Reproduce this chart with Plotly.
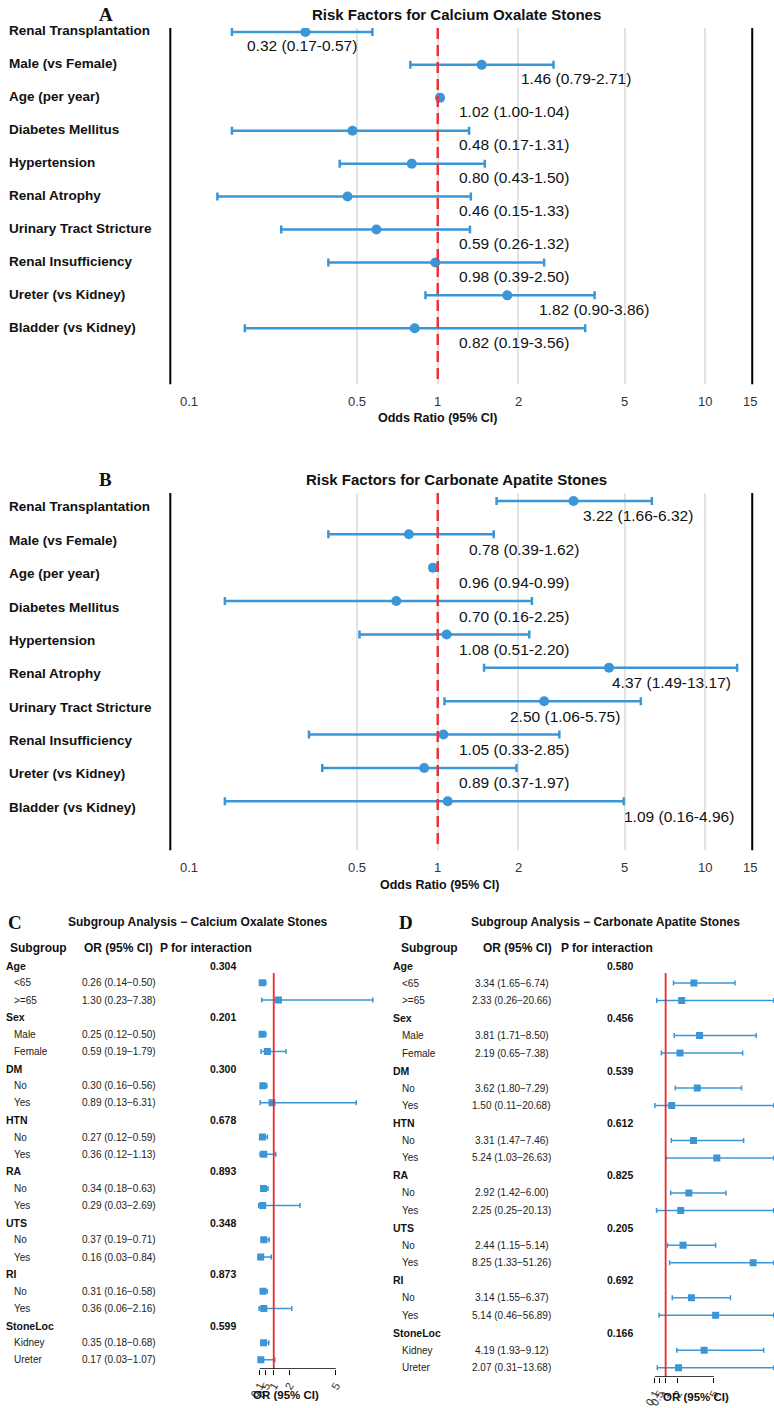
import numpy as np
import plotly.graph_objects as go

W, H = 774, 1408

# ---------------- data: panels A / B ----------------
factors = ["Renal Transplantation", "Male (vs Female)", "Age (per year)", "Diabetes Mellitus",
           "Hypertension", "Renal Atrophy", "Urinary Tract Stricture", "Renal Insufficiency",
           "Ureter (vs Kidney)", "Bladder (vs Kidney)"]
or_a = [0.32, 1.46, 1.02, 0.48, 0.80, 0.46, 0.59, 0.98, 1.82, 0.82]
lo_a = [0.17, 0.79, 1.00, 0.17, 0.43, 0.15, 0.26, 0.39, 0.90, 0.19]
hi_a = [0.57, 2.71, 1.04, 1.31, 1.50, 1.33, 1.32, 2.50, 3.86, 3.56]
or_b = [3.22, 0.78, 0.96, 0.70, 1.08, 4.37, 2.50, 1.05, 0.89, 1.09]
lo_b = [1.66, 0.39, 0.94, 0.16, 0.51, 1.49, 1.06, 0.33, 0.37, 0.16]
hi_b = [6.32, 1.62, 0.99, 2.25, 2.20, 13.17, 5.75, 2.85, 1.97, 4.96]
or_ticks = [0.1, 0.5, 1, 2, 5, 10, 15]
or_tick_text = ["0.1", "0.5", "1", "2", "5", "10", "15"]

# ---------------- data: panels C / D ----------------
groups = ["Age", "Sex", "DM", "HTN", "RA", "UTS", "RI", "StoneLoc"]
levels = [["<65", ">=65"], ["Male", "Female"], ["No", "Yes"], ["No", "Yes"],
          ["No", "Yes"], ["No", "Yes"], ["No", "Yes"], ["Kidney", "Ureter"]]
p_c = ["0.304", "0.201", "0.300", "0.678", "0.893", "0.348", "0.873", "0.599"]
or_c = [0.26, 1.30, 0.25, 0.59, 0.30, 0.89, 0.27, 0.36, 0.34, 0.29, 0.37, 0.16, 0.31, 0.36, 0.35, 0.17]
lo_c = [0.14, 0.23, 0.12, 0.19, 0.16, 0.13, 0.12, 0.12, 0.18, 0.03, 0.19, 0.03, 0.16, 0.06, 0.18, 0.03]
hi_c = [0.50, 7.38, 0.50, 1.79, 0.56, 6.31, 0.59, 1.13, 0.63, 2.69, 0.71, 0.84, 0.58, 2.16, 0.68, 1.07]
p_d = ["0.580", "0.456", "0.539", "0.612", "0.825", "0.205", "0.692", "0.166"]
or_d = [3.34, 2.33, 3.81, 2.19, 3.62, 1.50, 3.31, 5.24, 2.92, 2.25, 2.44, 8.25, 3.14, 5.14, 4.19, 2.07]
lo_d = [1.65, 0.26, 1.71, 0.65, 1.80, 0.11, 1.47, 1.03, 1.42, 0.25, 1.15, 1.33, 1.55, 0.46, 1.93, 0.31]
hi_d = [6.74, 20.66, 8.50, 7.38, 7.29, 20.68, 7.46, 26.63, 6.00, 20.13, 5.14, 51.26, 6.37, 56.89, 9.12, 13.68]
sub_ticks = [0.1, 0.5, 1, 2, 5]
sub_tick_text = ["0.1", "0.5", "1", "2", "5"]

# ---------------- style / layout constants ----------------
BLUE = "#3A96D6"
RED_DASH = "#E8353B"
RED = "#F0262A"
FONT = "Liberation Sans, Arial, sans-serif"
SERIF = "Liberation Serif, Times New Roman, serif"
LSHIFT = -9  # left-anchored text offset
# label anchors (left edge, OR units) chosen like the repelled text of the original
label_left_a = [0.20, 2.12, 1.24, 1.24, 1.24, 1.24, 1.24, 1.24, 2.47, 1.24]
label_left_b = [3.63, 1.35, 1.24, 1.24, 1.24, 4.64, 1.93, 1.24, 1.24, 5.14]


def py(p):
    return 1 - p / H


def px(p):
    return p / W


fig = go.Figure()
annotations = []
shapes = []

# ================= panels A and B =================
panelAB = [
    dict(xa="x", ya="y", or_=or_a, lo=lo_a, hi=hi_a, lab=label_left_a,
         top=28, bot=385, row0=32, step=33.0, title="Risk Factors for Calcium Oxalate Stones",
         title_y=15, letter="A", tick_y=402, axis_title_y=419, axis_title_x=434,
         rowlab_shift=1, val_shift=-14),
    dict(xa="x2", ya="y2", or_=or_b, lo=lo_b, hi=hi_b, lab=label_left_b,
         top=494, bot=852, row0=502, step=33.45, title="Risk Factors for Carbonate Apatite Stones",
         title_y=481, letter="B", tick_y=869, axis_title_y=887, axis_title_x=436,
         rowlab_shift=-6, val_shift=-15),
]
XL, XR = 164, 752
layout_axes = {}
for k, p in enumerate(panelAB):
    n = len(factors)
    rows = list(range(n))
    o = np.array(p["or_"]); lo = np.array(p["lo"]); hi = np.array(p["hi"])
    fig.add_trace(go.Scatter(
        x=o, y=rows, mode="markers", xaxis=p["xa"], yaxis=p["ya"],
        marker=dict(size=10, color=BLUE),
        error_x=dict(type="data", symmetric=False, array=hi - o, arrayminus=o - lo,
                     color=BLUE, thickness=2.5, width=4),
        showlegend=False, hoverinfo="skip"))
    ymax = (p["bot"] - p["row0"]) / p["step"]
    ymin = (p["top"] - p["row0"]) / p["step"]
    # reference line at OR = 1
    fig.add_trace(go.Scatter(x=[1, 1], y=[ymin, ymax], mode="lines", xaxis=p["xa"], yaxis=p["ya"],
                             line=dict(color=RED_DASH, width=2.5, dash="11px,6px"),
                             showlegend=False, hoverinfo="skip"))
    sfx = "" if k == 0 else "2"
    layout_axes["xaxis" + sfx] = dict(
        type="log", range=[np.log10(0.1), np.log10(15)], domain=[px(XL), px(XR)],
        anchor=p["ya"], tickvals=[0.5, 1, 2, 5, 10], showticklabels=False,
        showgrid=True, gridcolor="#E3E3E3", gridwidth=1.5, zeroline=False, showline=False, ticks="")
    layout_axes["yaxis" + sfx] = dict(
        range=[ymax, ymin], domain=[py(p["bot"]), py(p["top"])], anchor=p["xa"],
        showticklabels=False, showgrid=False, zeroline=False, showline=False)
    # side borders
    for xd in (0, 1):
        shapes.append(dict(type="line", xref=p["xa"] + " domain", yref=p["ya"] + " domain",
                           x0=xd, x1=xd, y0=0, y1=1, line=dict(color="black", width=2)))
    # row labels and value labels
    for i in rows:
        annotations.append(dict(text="<b>%s</b>" % factors[i], xref="paper", yref=p["ya"],
                                x=px(8), y=i, xanchor="left", yanchor="middle", showarrow=False,
                                xshift=LSHIFT, yshift=p["rowlab_shift"],
                                font=dict(family=FONT, size=13.5, color="#111")))
        annotations.append(dict(text="%.2f (%.2f-%.2f)" % (o[i], lo[i], hi[i]), xref=p["xa"], yref=p["ya"],
                                x=np.log10(p["lab"][i]), y=i, xanchor="left", yanchor="middle",
                                showarrow=False, xshift=-6, yshift=p["val_shift"],
                                font=dict(family=FONT, size=15.5, color="#111")))
    # tick labels
    for v, t in zip(or_ticks, or_tick_text):
        shift = 19 if v == 0.1 else (-2 if v == 15 else 0)
        annotations.append(dict(text=t, xref=p["xa"], yref="paper", x=np.log10(v), y=py(p["tick_y"]),
                                xanchor="center", yanchor="middle", showarrow=False, xshift=shift,
                                font=dict(family=FONT, size=13, color="#333")))
    annotations.append(dict(text="<b>Odds Ratio (95% CI)</b>", xref="paper", yref="paper",
                            x=px(p["axis_title_x"]), y=py(p["axis_title_y"]), showarrow=False,
                            xanchor="center", yanchor="middle", font=dict(family=FONT, size=12.5, color="#111")))
    annotations.append(dict(text="<b>%s</b>" % p["title"], xref="paper", yref="paper",
                            x=px(453), y=py(p["title_y"]), showarrow=False,
                            xanchor="center", yanchor="middle", font=dict(family=FONT, size=15, color="#111")))
    annotations.append(dict(text="<b>%s</b>" % p["letter"], xref="paper", yref="paper",
                            x=px(99), y=py(p["title_y"]), showarrow=False,
                            xanchor="center", yanchor="middle", font=dict(family=SERIF, size=19, color="#111")))

# ================= panels C and D =================
panelCD = [
    dict(xa="x3", ya="y3", or_=or_c, lo=lo_c, hi=hi_c, pv=p_c, letter="C",
         title="Subgroup Analysis \u2212 Calcium Oxalate Stones",
         letter_x=7, title_x=192, row0=967.8, step=17.17,
         x_group=5, x_sub=13, x_or=112.5, x_p=217, hdr=[(31, "Subgroup"), (112, "OR (95% CI)"), (200, "P for interaction")],
         one_px=268.5, unit=15.7, xl=249.7, xr=372.1, top=975, bot=1372, axis_title_x=281, axis_title_y=1398),
    dict(xa="x4", ya="y4", or_=or_d, lo=lo_d, hi=hi_d, pv=p_d, letter="D",
         title="Subgroup Analysis \u2212 Carbonate Apatite Stones",
         letter_x=402, title_x=604, row0=967.7, step=17.52,
         x_group=396, x_sub=405, x_or=509, x_p=618, hdr=[(426, "Subgroup"), (515, "OR (95% CI)"), (605, "P for interaction")],
         one_px=664.5, unit=12.2, xl=649.9, xr=774, top=975, bot=1380, axis_title_x=695, axis_title_y=1400),
]
for k, p in enumerate(panelCD):
    o = np.array(p["or_"]); lo = np.array(p["lo"]); hi = np.array(p["hi"])
    xmin = 1 + (p["xl"] - p["one_px"]) / p["unit"]
    xmax = 1 + (p["xr"] - p["one_px"]) / p["unit"]
    hi_disp = np.minimum(hi, xmax - 0.02)
    rows = []
    for g in range(len(groups)):
        for j in range(len(levels[g])):
            rows.append(3 * g + 1 + j)
    fig.add_trace(go.Scatter(
        x=o, y=rows, mode="markers", xaxis=p["xa"], yaxis=p["ya"],
        marker=dict(size=7, color=BLUE, symbol="square"),
        error_x=dict(type="data", symmetric=False, array=hi_disp - o, arrayminus=o - lo,
                     color=BLUE, thickness=1.5, width=2.5),
        showlegend=False, hoverinfo="skip"))
    ymin = (p["top"] - p["row0"]) / p["step"]
    ymax = (p["bot"] - p["row0"]) / p["step"]
    fig.add_trace(go.Scatter(x=[1, 1], y=[ymin, ymax], mode="lines", xaxis=p["xa"], yaxis=p["ya"],
                             line=dict(color=RED, width=1.8), showlegend=False, hoverinfo="skip"))
    sfx = str(k + 3)
    layout_axes["xaxis" + sfx] = dict(
        range=[xmin, xmax], domain=[px(p["xl"]), min(1, px(p["xr"]))], anchor=p["ya"],
        tickvals=sub_ticks, ticktext=sub_tick_text, tickangle=-60, ticks="outside", ticklen=5,
        tickcolor="black", tickwidth=1.2, tickfont=dict(family=FONT, size=11, color="#333"),
        showgrid=False, zeroline=False, showline=False)
    layout_axes["yaxis" + sfx] = dict(
        range=[ymax, ymin], domain=[py(p["bot"]), py(p["top"])], anchor=p["xa"],
        showticklabels=False, showgrid=False, zeroline=False, showline=False)
    # axis line spanning tick range only
    fig.add_trace(go.Scatter(x=[sub_ticks[0], sub_ticks[-1]], y=[ymax, ymax], mode="lines",
                             xaxis=p["xa"], yaxis=p["ya"], line=dict(color="black", width=1.5),
                             showlegend=False, hoverinfo="skip", cliponaxis=False))
    annotations.append(dict(text="<b>OR (95% CI)</b>", xref="paper", yref="paper",
                            x=px(p["axis_title_x"]), y=py(p["axis_title_y"]), showarrow=False,
                            xanchor="center", yanchor="middle", font=dict(family=FONT, size=11.5, color="#111")))
    # headers
    annotations.append(dict(text="<b>%s</b>" % p["letter"], xref="paper", yref="paper",
                            x=px(p["letter_x"]), y=py(924), showarrow=False, xanchor="center",
                            yanchor="middle", font=dict(family=SERIF, size=19, color="#111")))
    annotations.append(dict(text="<b>%s</b>" % p["title"], xref="paper", yref="paper",
                            x=px(p["title_x"]), y=py(924), showarrow=False, xanchor="center",
                            yanchor="middle", font=dict(family=FONT, size=12, color="#111")))
    for hx, ht in p["hdr"]:
        annotations.append(dict(text="<b>%s</b>" % ht, xref="paper", yref="paper",
                                x=px(hx), y=py(950), showarrow=False, xanchor="center",
                                yanchor="middle", font=dict(family=FONT, size=12, color="#111")))
    # table body
    idx = 0
    for g in range(len(groups)):
        ry = p["row0"] + p["step"] * (3 * g)
        annotations.append(dict(text="<b>%s</b>" % groups[g], xref="paper", yref="paper",
                                x=px(p["x_group"]), y=py(ry), showarrow=False, xanchor="left",
                                xshift=LSHIFT, yanchor="middle", font=dict(family=FONT, size=10.5, color="#111")))
        annotations.append(dict(text="<b>%s</b>" % p["pv"][g], xref="paper", yref="paper",
                                x=px(p["x_p"]), y=py(ry), showarrow=False, xanchor="center",
                                yanchor="middle", font=dict(family=FONT, size=10.5, color="#111")))
        for j in range(len(levels[g])):
            ry = p["row0"] + p["step"] * (3 * g + 1 + j)
            annotations.append(dict(text=levels[g][j].replace("<", "&lt;").replace(">", "&gt;"),
                                    xref="paper", yref="paper",
                                    x=px(p["x_sub"]), y=py(ry), showarrow=False, xanchor="left",
                                    xshift=LSHIFT, yanchor="middle", font=dict(family=FONT, size=10, color="#222")))
            annotations.append(dict(text="%.2f (%.2f\u2212%.2f)" % (o[idx], lo[idx], hi[idx]),
                                    xref="paper", yref="paper",
                                    x=px(p["x_or"]), y=py(ry), showarrow=False, xanchor="center",
                                    yanchor="middle", font=dict(family=FONT, size=10, color="#222")))
            idx += 1

fig.update_layout(
    width=W, height=H, margin=dict(l=0, r=0, t=0, b=0),
    paper_bgcolor="white", plot_bgcolor="white", showlegend=False,
    annotations=annotations, shapes=shapes, **layout_axes)

fig.write_html("out.html")
